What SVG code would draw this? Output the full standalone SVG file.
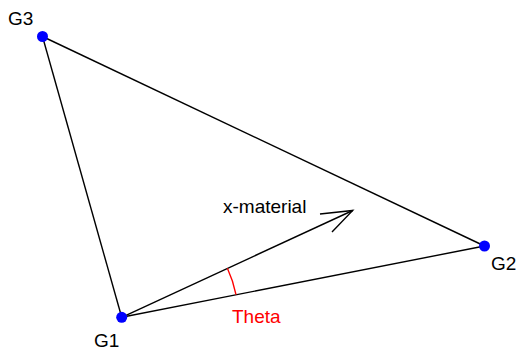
<svg xmlns="http://www.w3.org/2000/svg" width="521" height="356" viewBox="0 0 521 356">
<style>
.edge{stroke:#000;stroke-width:1.4;fill:none}
.pt{fill:#0000ff}
.lbl{font-family:"Liberation Sans",Arial,sans-serif;font-size:19px;fill:#000}
.red{fill:#ff0000}
</style>
<rect width="521" height="356" fill="#fff"/>
<g id="connectors">
<line class="edge" x1="42.5" y1="36.5" x2="484.5" y2="246"/>
<line class="edge" x1="42.5" y1="36.5" x2="121.7" y2="317.3"/>
<line class="edge" x1="121.7" y1="317.3" x2="484.5" y2="246"/>
<line class="edge" x1="121.7" y1="317.3" x2="352.7" y2="210.5"/>
<polyline class="edge" points="320,214 352.7,210.5 332,232"/>
<path d="M227.4,268.2 A116.5,116.5 0 0 1 236,294.7" stroke="#ff0000" stroke-width="1.4" fill="none"/>
</g>
<g id="G3"><circle class="pt" cx="42.5" cy="36.5" r="5.5"/><text class="lbl" x="8" y="25">G3</text></g>
<g id="G1"><circle class="pt" cx="121.7" cy="317.3" r="5.5"/><text class="lbl" x="94" y="347">G1</text></g>
<g id="G2"><circle class="pt" cx="484.5" cy="246" r="5.5"/><text class="lbl" x="491" y="270">G2</text></g>
<g id="xmat"><text class="lbl" x="223" y="213">x-material</text></g>
<g id="theta"><text class="lbl red" x="232" y="323">Theta</text></g>
</svg>
